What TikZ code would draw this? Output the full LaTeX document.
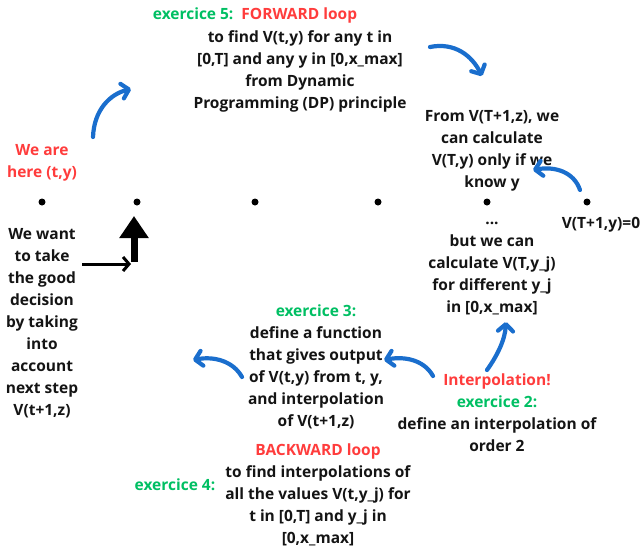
\documentclass[tikz,border=0pt]{standalone}
\usepackage{fontspec}
\setmainfont{Open Sans}
\usepackage{xcolor}
\usetikzlibrary{arrows.meta}
\usetikzlibrary{math}
\definecolor{myred}{RGB}{255, 60, 60}
\definecolor{mygreen}{RGB}{0, 191, 99}
\definecolor{myblue}{RGB}{26, 110, 205}
\definecolor{myink}{RGB}{20, 20, 20}

\begin{document}
\begin{tikzpicture}[x=1pt,y=-1pt,
 txt/.style={align=center, inner sep=0pt, text=myink, font=\fontsize{15.5}{22}\selectfont\bfseries},
 bluearc/.style={color=myblue, line width=4.2pt, line cap=round, -{Straight Barb[length=7pt,width=15pt,round]}}]
\tikzmath{
\ydot=202;
}
\useasboundingbox (0,0) rectangle (643,546);

% time steps
\foreach \xx/\nm in {42/d0,137/d1,255/d2,378/d3,487/d4,587/d5}
  \fill (\xx,\ydot) circle(3.5pt) coordinate (\nm);

% texts
\node[txt, text=myred] (here) at (42,163) {We are\\here (t,y)};
\node[txt] (want) at (42,323) {We want\\to take\\the good\\decision\\by taking\\into\\account\\next step\\V(t+1,z)};
\node[txt] (fwdt) at (255,15) {\textcolor{mygreen}{exercice 5:}\ \ \textcolor{myred}{FORWARD loop}};
\node[txt] (fwd) at (300,71) {to find V(t,y) for any t in\\{}[0,T] and any y in [0,x\_max]\\from Dynamic\\Programming (DP) principle};
\node[txt] (from) at (492,151) {From V(T+1,z), we\\can calculate\\V(T,y) only if we\\know y};
\node[txt] (end) at (601,225) {V(T+1,y)=0};
\node[txt] (but) at (492,269) {...\\but we can\\calculate V(T,y\_j)\\for different y\_j\\in [0,x\_max]};
\node[txt] (ex3) at (316,367) {\textcolor{mygreen}{exercice 3:}\\define a function\\that gives output\\of V(t,y) from t, y,\\and interpolation\\of V(t+1,z)};
\node[txt] (ex2) at (497,413) {\textcolor{myred}{Interpolation!}\\\textcolor{mygreen}{exercice 2:}\\define an interpolation of\\order 2};
\node[txt] (bwd) at (318,495) {\textcolor{myred}{BACKWARD loop}\\to find interpolations of\\all the values V(t,y\_j) for\\t in [0,T] and y\_j in\\{}[0,x\_max]};
\node[txt, text=mygreen] (ex4) at (175,485) {exercice 4:};

% decision arrows
\coordinate (h0) at (82,264);
\coordinate (h1) at (131,264);
\coordinate (v0) at (134,262);
\coordinate (v1) at (134,216);
\draw[line width=3pt, -{Straight Barb[length=6pt,width=14pt]}] (h0) -- (h1);
\draw[line width=7pt, -{Triangle[length=22pt,width=28pt]}] (v0) -- (v1);

% blue arrows
\coordinate (a1) at (93,137);  \coordinate (b1) at (131,89);
\coordinate (a2) at (430,47);  \coordinate (b2) at (482,76);
\coordinate (a3) at (580,190); \coordinate (b3) at (533,170);
\coordinate (a4) at (487,370); \coordinate (b4) at (506,322);
\coordinate (a5) at (433,376); \coordinate (b5) at (384,360);
\coordinate (a6) at (242,377); \coordinate (b6) at (193,360);
\draw[bluearc] (a1) .. controls (94,110) and (110,94) .. (b1);
\draw[bluearc] (a2) .. controls (455,42) and (472,56) .. (b2);
\draw[bluearc] (a3) .. controls (574,172) and (555,166) .. (b3);
\draw[bluearc] (a4) .. controls (497,356) and (505,340) .. (b4);
\draw[bluearc] (a5) .. controls (424,360) and (405,356) .. (b5);
\draw[bluearc] (a6) .. controls (233,361) and (214,356) .. (b6);
\end{tikzpicture}
\end{document}
